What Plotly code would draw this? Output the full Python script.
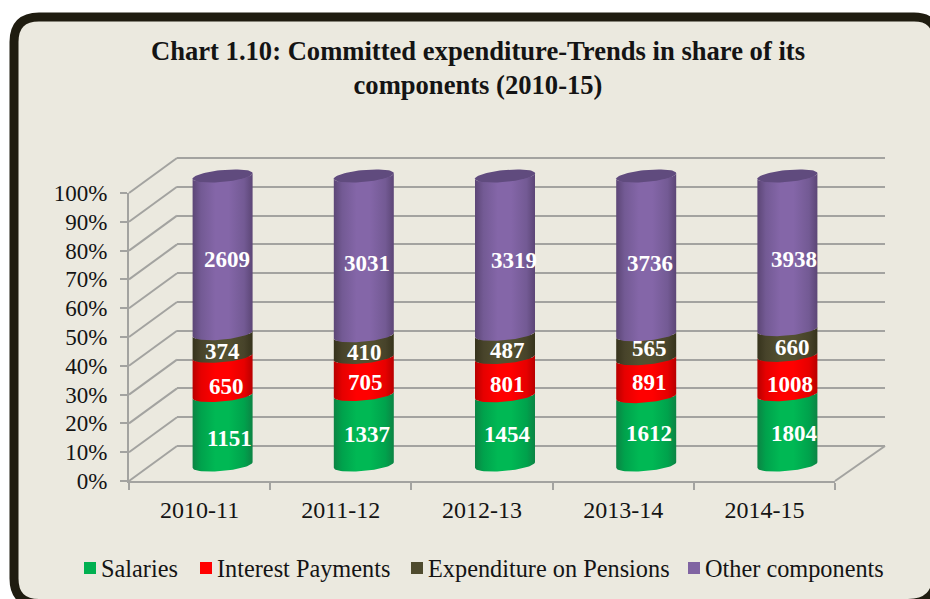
import math
import plotly.graph_objects as go

categories = ["2010-11", "2011-12", "2012-13", "2013-14", "2014-15"]
salaries = [1151, 1337, 1454, 1612, 1804]
interest = [650, 705, 801, 891, 1008]
pensions = [374, 410, 487, 565, 660]
others = [2609, 3031, 3319, 3736, 3938]
percent_ticks = list(range(0, 101, 10))

series = [
    ("Salaries", salaries, "#00b050"),
    ("Interest Payments", interest, "#ff0000"),
    ("Expenditure on Pensions", pensions, "#4f4b2e"),
    ("Other components", others, "#8064a2"),
]
shades = {
    "Salaries": ["#0c8444", "#00a24c", "#00b854", "#00b854", "#00a24c", "#0c8444"],
    "Interest Payments": ["#b80000", "#e60000", "#ff0000", "#ff0000", "#e60000", "#b80000"],
    "Expenditure on Pensions": ["#36331c", "#47432a", "#535030", "#535030", "#47432a", "#36331c"],
    "Other components": ["#5c4676", "#735a94", "#8466a8", "#8466a8", "#735a94", "#5c4676"],
}
label_shift = {
    "Salaries": [(7, 8), (3, 5), (2, 4), (3, 3), (7, 4)],
    "Interest Payments": [(4, 11), (2, 7), (2, 8), (3, 5), (3, 10)],
    "Expenditure on Pensions": [(0, 7), (1, 6), (2, 5), (3, 2), (5, 5)],
    "Other components": [(4, 5), (3, 8), (9, 5), (4, 8), (7, 7)],
}

W, H = 930, 599
def px(x):
    return x / W
def py(y):
    return 1 - y / H

GRID = "#a3a3a0"
INK = "#141414"
SERIF = "Liberation Serif"

# plane of the cylinders: 0% at y=465, 100% at y=176
unit = 2.89
pad = 4
half_w = 30 / 141.2
tilt = 2.8 / unit
depth = 6 / unit
idx = list(range(len(categories)))
totals = [sum(s[1][i] for s in series) for i in idx]

def ellipse_points(i, v, t0, t1, n=36):
    xs, ys = [], []
    for k in range(n + 1):
        t = t0 + (t1 - t0) * k / n
        xs.append(i + half_w * math.cos(t))
        ys.append(v + tilt * math.cos(t) - depth * math.sin(t))
    return xs, ys

fig = go.Figure()

# invisible traces to populate the back wall and the front axis
fig.add_trace(go.Scatter(x=categories, y=[None] * 5, xaxis="x", yaxis="y", showlegend=False, hoverinfo="skip"))
fig.add_trace(go.Scatter(x=categories, y=[None] * 5, xaxis="x3", yaxis="y3", showlegend=False, hoverinfo="skip"))

for name, vals, color in series:
    fig.add_trace(go.Bar(x=idx, y=vals, name=name, width=0.37, marker=dict(color=color, line=dict(width=0)),
                         xaxis="x2", yaxis="y2", showlegend=False,
                         hovertemplate=name + ": %{customdata}<extra></extra>", customdata=vals))

annotations = []
for i in idx:
    cum = 0.0
    for name, vals, color in series:
        low = cum
        high = cum + vals[i] / totals[i] * 100
        cum = high
        x1, y1 = ellipse_points(i, low, math.pi, 0)
        x2, y2 = ellipse_points(i, high, 0, math.pi)
        fig.add_trace(go.Scatter(
            x=x1 + x2 + [x1[0]], y=y1 + y2 + [y1[0]], mode="lines", line=dict(width=0), fill="toself",
            fillgradient=dict(type="horizontal",
                              colorscale=[[p, c] for p, c in zip([0, 0.14, 0.38, 0.6, 0.86, 1], shades[name])]),
            xaxis="x2", yaxis="y2", showlegend=False, hoverinfo="skip"))
        dx, dy = label_shift[name][i]
        annotations.append(dict(x=i, y=(low + high) / 2, xref="x2", yref="y2", text=str(vals[i]), showarrow=False,
                                xshift=dx, yshift=-dy,
                                font=dict(family=SERIF, size=23, color="white", weight=700)))
    xt, yt = ellipse_points(i, 100, 0, 2 * math.pi, 72)
    fig.add_trace(go.Scatter(x=xt, y=yt, mode="lines", line=dict(width=0), fill="toself", fillcolor="#604b7e",
                             xaxis="x2", yaxis="y2", showlegend=False, hoverinfo="skip"))

# panel and walls
l, t, r, b = 14, 17, 937, 603.5
panel = (f"M {px(l + 25)},{py(t)} L {px(r - 23)},{py(t)} Q {px(r)},{py(t)} {px(r)},{py(t + 23)} "
         f"L {px(r)},{py(b - 29)} Q {px(r)},{py(b)} {px(r - 29)},{py(b)} L {px(l + 25)},{py(b)} "
         f"Q {px(l)},{py(b)} {px(l)},{py(b - 25)} L {px(l)},{py(t + 25)} Q {px(l)},{py(t)} {px(l + 25)},{py(t)} Z")
shapes = [dict(type="path", path=panel, xref="paper", yref="paper", fillcolor="#ebe9df",
               line=dict(color="#1f1c10", width=9), layer="below")]
for v in percent_ticks:
    yf = 481 - v * 2.88
    yb = 446 - v * 2.88
    shapes.append(dict(type="line", xref="paper", yref="paper", x0=px(129), y0=py(yf), x1=px(177), y1=py(yb),
                       line=dict(color=GRID, width=2), layer="below"))
shapes.append(dict(type="line", xref="paper", yref="paper", x0=px(835), y0=py(481), x1=px(885), y1=py(446),
                   line=dict(color=GRID, width=2), layer="below"))

# legend row
legend_text_x = [101, 217, 428, 705]
for (name, vals, color), tx in zip(series, legend_text_x):
    shapes.append(dict(type="rect", xref="paper", yref="paper", x0=px(tx - 17), x1=px(tx - 5), y0=py(574), y1=py(562),
                       fillcolor=color, line=dict(width=0), layer="above"))
    annotations.append(dict(x=px(tx - 2), y=py(568), xref="paper", yref="paper", xanchor="left", yanchor="middle",
                            text=name, showarrow=False, font=dict(family=SERIF, size=24.3, color=INK)))

fig.update_layout(
    width=W, height=H, autosize=False, margin=dict(l=0, r=0, t=0, b=0, pad=0, autoexpand=False),
    paper_bgcolor="white", plot_bgcolor="rgba(0,0,0,0)", barmode="stack", barnorm="percent", showlegend=False,
    title=dict(text="Chart 1.10: Committed expenditure-Trends in share of its<br>components (2010-15)",
               x=px(478), xanchor="center", xref="paper", y=py(59.5), yanchor="top", yref="paper",
               font=dict(family=SERIF, size=26.6, color=INK, weight=700)),
    xaxis=dict(domain=[px(177), px(885)], type="category", range=[-0.5, 4.5], anchor="y", showgrid=False,
               showline=False, showticklabels=False, ticks="", zeroline=False, categoryarray=categories),
    yaxis=dict(domain=[py(446 + 2.88), py(158 - 2.88)], range=[-1, 101], tickvals=percent_ticks, anchor="x",
               showgrid=True, gridcolor=GRID, gridwidth=2, showline=False, showticklabels=False, ticks="",
               zeroline=False),
    xaxis2=dict(domain=[px(152), px(858)], range=[-0.5, 4.5], anchor="y2", visible=False),
    yaxis2=dict(domain=[py(465 + pad * unit), py(176 - pad * unit)], range=[-pad, 100 + pad], anchor="x2", visible=False),
    xaxis3=dict(domain=[px(129), px(835)], type="category", categoryarray=categories, range=[-0.5, 4.5], anchor="y3",
                showgrid=False, showline=True, linecolor=GRID, linewidth=2, ticks="outside", ticklen=7,
                tickcolor=GRID, tickwidth=2, tickson="boundaries", ticklabelstandoff=6,
                tickfont=dict(family=SERIF, size=24, color=INK), zeroline=False),
    yaxis3=dict(domain=[py(481), py(193)], range=[0, 100], tickvals=percent_ticks,
                ticktext=[f"{v}%" for v in percent_ticks], anchor="x3", showgrid=False, showline=True,
                linecolor=GRID, linewidth=2, ticks="outside", ticklen=7, tickcolor=GRID, tickwidth=2,
                ticklabelstandoff=8, tickfont=dict(family=SERIF, size=23, color=INK), zeroline=False),
    shapes=shapes, annotations=annotations,
)

fig.write_html("out.html", config=dict(displayModeBar=False),
               post_script="document.body.style.margin='0';document.documentElement.style.overflow='hidden';")
